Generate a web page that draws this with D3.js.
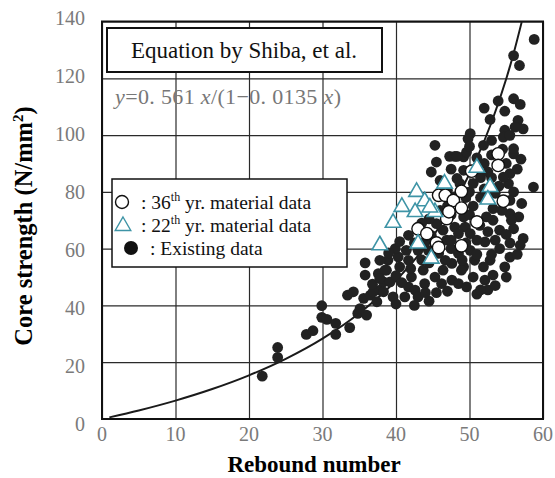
<!DOCTYPE html>
<html>
<head>
<meta charset="utf-8">
<script src="https://cdn.jsdelivr.net/npm/d3@7"></script>
<style>
  body, html { margin: 0; padding: 0; background: #fff; }
  svg { display: block; }
  svg text { font-family: "Liberation Serif", "DejaVu Serif", serif; }
</style>
</head>
<body>
<svg width="555" height="478"></svg>
<script>

// axis ticks
var xTicks = [0, 10, 20, 30, 40, 50, 60];
var yTicks = [0, 20, 40, 60, 80, 100, 120, 140];

// equation by Shiba et al.: y = a x / (1 - b x)
var coefA = 0.561, coefB = 0.0135;
var curveX = [1, 5, 10, 15, 20, 25, 30, 35, 40, 43, 46, 49, 51, 53, 55, 56, 57.1];

// existing data (filled dots) [rebound number, core strength]
var existing = [
  [21.8,15.1],[23.9,25.2],[23.9,21.7],[27.8,29.8],[28.7,31.1],[29.9,39.9],[29.9,35.8],[30.6,35.1],
  [31.8,33.7],[31.8,29.8],[33.7,32.2],[34.2,44.8],[33.4,43.6],[34.8,37.2],[36.0,36.6],[35.1,38.9],
  [35.8,55.0],[35.8,50.7],[35.6,42.5],[36.5,43.6],[36.9,44.8],[37.4,41.3],[37.8,45.4],[38.3,48.3],
  [37.6,51.2],[38.7,52.4],[38.9,55.9],[36.8,47.5],
  [37.8,55.9],[38.5,52.4],[37.8,49.5],[39.2,48.3],[38.3,44.8],[39.6,43.0],[40.3,57.1],[41.4,59.4],
  [41.7,55.9],[40.5,53.6],[42.1,50.0],[41.7,46.5],[42.6,45.4],[41.2,43.0],[43.0,43.0],[43.9,47.7],
  [43.7,52.4],[45.3,50.0],[46.2,47.7],[47.6,48.9],[48.5,47.7],[46.4,52.4],[47.6,54.8],[49.2,53.6],
  [46.7,55.9],[48.5,58.3],[49.4,67.6],[48.0,67.6],[48.5,65.3],[49.2,71.2],[48.0,78.2],[48.7,82.9],
  [49.2,87.6],[48.3,84.7],[41.7,64.7],[44.8,64.7],[46.4,66.5],[45.5,68.8],[46.9,63.0],[44.4,59.4],
  [45.8,58.3],[43.0,59.4],[39.9,60.0],[44.8,87.0],[48.0,92.5],
  [40.0,40.5],[42.5,40.0],[44.5,41.5],[45.5,44.5],[47.0,45.0],[44.0,44.5],
  [40.5,62.5],[42.5,62.0],[44.0,62.5],[43.5,56.0],[42.0,53.0],[44.5,55.0],[40.0,50.5],[39.0,58.5],[40.8,48.0],
  [58.7,81.7],[57.3,63.6],[56.9,61.2],[57.1,75.9],[55.5,72.3],[56.7,71.2],[55.7,70.0],[54.4,73.5],
  [53.2,70.0],[54.1,66.5],[53.5,63.0],[54.1,60.0],[52.1,62.4],[52.8,55.9],[54.8,53.6],[51.9,53.6],
  [53.2,50.7],[52.1,48.9],[50.5,50.0],[49.6,46.5],[48.9,52.4],[50.7,55.9],[50.1,59.4],[50.1,65.3],
  [51.4,68.2],[52.3,71.2],[53.2,74.1],[55.3,82.9],[55.5,86.4],[56.0,93.4],[54.6,85.2],[49.2,92.3],
  [51.0,44.0],[52.5,45.5],
  [58.8,133.7],[56.0,128.0],[56.8,124.5],[53.9,112.0],[56.0,112.8],[56.9,110.8],[54.8,108.4],[52.0,109.5],
  [52.8,105.5],[56.6,105.2],[57.3,102.2],[56.2,102.8],[54.8,101.7],[54.6,99.3],[55.5,99.9],[50.1,100.5],
  [49.8,98.7],[53.0,98.1],[51.9,96.4],[45.3,96.4],[49.6,94.0],[56.0,95.2],[47.3,92.5],[48.3,92.5],
  [47.0,75.0],[47.5,72.0],[50.0,72.0],[50.5,75.0],[51.5,78.0],[50.0,80.0],[50.5,83.0],[51.5,85.0],
  [52.5,87.0],[52.0,90.0],[53.0,93.0],[54.5,95.0],[51.0,92.0],[50.0,96.0],[49.5,62.0],[51.0,63.0],
  [52.5,66.0],[51.0,58.0],[49.0,56.0],[47.5,60.0],[47.5,63.0],[46.0,73.5],[44.5,70.5],[43.5,69.0],
  [47.0,80.5],[46.0,84.0],[47.5,88.0],[45.5,90.5],[49.5,78.0],[53.5,79.5],[54.0,82.0],[56.0,80.0],
  [56.5,88.0],[57.0,91.5],[55.0,90.0],[53.0,85.0],[52.0,81.0],[55.5,77.0],[56.0,67.0],[55.0,65.0],
  [55.5,62.0],[53.0,58.0],[51.5,45.5],[53.5,47.0],[55.0,50.0],[55.5,57.0],[56.5,58.0]
];

// 36th year material data (open circles)
var year36 = [
  [43.0,67.0],[44.2,65.3],[45.5,62.0],[45.8,60.4],[45.8,78.8],[46.7,78.8],[46.9,70.6],[47.8,77.0],
  [48.9,80.2],[48.9,74.3],[48.9,61.0],[51.0,69.4],[50.3,87.3],[53.9,93.4],[53.9,89.3],[54.6,76.7],
  [47.2,73.0]
];

// 22nd year material data (triangles)
var year22 = [
  [51.0,88.5],[52.8,81.7],[52.5,77.3],[46.6,82.9],[42.8,80.0],[43.9,76.7],[40.8,74.7],[42.6,72.9],
  [45.3,72.9],[44.6,74.5],[39.6,69.1],[37.8,61.2],[43.0,61.8],[44.8,56.5]
];

var svg = d3.select('svg');
var margin = {top: 21.5, right: 12, bottom: 59, left: 102};
var width = 555 - margin.left - margin.right,
    height = 478 - margin.top - margin.bottom;

var x = d3.scaleLinear().domain([0, 60]).range([margin.left, margin.left + width]),
    y = d3.scaleLinear().domain([0, 140]).range([margin.top + height, margin.top]);
// the scanned figure spaces its y labels slightly wider than the grid
var yLabel = d3.scaleLinear().domain([0, 140]).range([424, 18]);

// grid
svg.append('g')
  .attr('transform', 'translate(0,' + (margin.top + height) + ')')
  .call(d3.axisBottom(x).tickValues(xTicks).tickSize(-height).tickFormat(''));
svg.append('g')
  .attr('transform', 'translate(' + margin.left + ',0)')
  .call(d3.axisLeft(y).tickValues(yTicks).tickSize(-width).tickFormat(''));
svg.selectAll('.domain').remove();
svg.selectAll('.tick line').attr('stroke', '#2a2a2a').attr('stroke-width', 1.2);

// tick labels
svg.append('g').selectAll('text').data(xTicks).join('text')
  .attr('x', function(d) { return x(d); })
  .attr('y', 441)
  .attr('text-anchor', 'middle')
  .attr('font-size', 20).attr('fill', '#7a7a7a')
  .text(function(d) { return d; });
svg.append('g').selectAll('text').data(yTicks).join('text')
  .attr('x', 85)
  .attr('y', function(d) { return yLabel(d) + 7; })
  .attr('text-anchor', 'end')
  .attr('font-size', 20).attr('fill', '#7a7a7a')
  .text(function(d) { return d; });

// frame
svg.append('rect')
  .attr('x', margin.left).attr('y', margin.top)
  .attr('width', width).attr('height', height)
  .attr('fill', 'none').attr('stroke', '#111').attr('stroke-width', 2);

// equation text
var eq = svg.append('text').attr('x', 115).attr('y', 104)
  .attr('font-size', 22).attr('letter-spacing', 0.35).attr('fill', '#777');
eq.append('tspan').attr('font-style', 'italic').text('y');
eq.append('tspan').text('=0. 561 ');
eq.append('tspan').attr('font-style', 'italic').text('x');
eq.append('tspan').text('/(1\u22120. 0135 ');
eq.append('tspan').attr('font-style', 'italic').text('x');
eq.append('tspan').text(')');

// title box
svg.append('rect').attr('x', 107).attr('y', 28).attr('width', 275).attr('height', 44)
  .attr('fill', '#fff').attr('stroke', '#111').attr('stroke-width', 2);
svg.append('text').attr('x', 244).attr('y', 58)
  .attr('text-anchor', 'middle').attr('font-size', 23).attr('fill', '#111')
  .text('Equation by Shiba, et al.');

// fitted curve
var line = d3.line()
  .x(function(d) { return x(d); })
  .y(function(d) { return y(coefA * d / (1 - coefB * d)); })
  .curve(d3.curveMonotoneX);
svg.append('path').datum(curveX)
  .attr('d', line)
  .attr('fill', 'none').attr('stroke', '#1a1a1a').attr('stroke-width', 2);

// existing data
svg.append('g').selectAll('circle').data(existing).join('circle')
  .attr('cx', function(d) { return x(d[0]); })
  .attr('cy', function(d) { return y(d[1]); })
  .attr('r', 5.4)
  .attr('fill', '#222');

// 36th year
svg.append('g').selectAll('circle').data(year36).join('circle')
  .attr('cx', function(d) { return x(d[0]); })
  .attr('cy', function(d) { return y(d[1]); })
  .attr('r', 6.2)
  .attr('fill', '#fff').attr('stroke', '#111').attr('stroke-width', 1.4);

// 22nd year
var tri = d3.symbol().type(d3.symbolTriangle).size(105);
svg.append('g').selectAll('path').data(year22).join('path')
  .attr('transform', function(d) { return 'translate(' + x(d[0]) + ',' + y(d[1]) + ')'; })
  .attr('d', tri)
  .attr('fill', '#fff').attr('stroke', '#3e94a6').attr('stroke-width', 1.6);

// legend
var lg = svg.append('g');
lg.append('rect').attr('x', 112).attr('y', 179).attr('width', 235).attr('height', 88)
  .attr('fill', '#fff').attr('stroke', '#111').attr('stroke-width', 1.5);
lg.append('circle').attr('cx', 122).attr('cy', 202).attr('r', 6.5)
  .attr('fill', '#fff').attr('stroke', '#111').attr('stroke-width', 1.4);
lg.append('path').attr('transform', 'translate(123,226)').attr('d', tri)
  .attr('fill', '#fff').attr('stroke', '#3e94a6').attr('stroke-width', 1.4);
lg.append('circle').attr('cx', 131).attr('cy', 248).attr('r', 7).attr('fill', '#111');

var items = [['36', 'yr. material data', 209], ['22', 'yr. material data', 232]];
items.forEach(function(it) {
  var t = lg.append('text').attr('x', 141).attr('y', it[2]).attr('font-size', 19.5).attr('fill', '#111');
  t.append('tspan').text(':  ' + it[0]);
  t.append('tspan').attr('font-size', 12).attr('dy', -8).text('th');
  t.append('tspan').attr('dy', 8).text(' ' + it[1]);
});
lg.append('text').attr('x', 150).attr('y', 255).attr('font-size', 19.5).attr('fill', '#111')
  .text(':  Existing data');

// axis titles
svg.append('text')
  .attr('x', 314).attr('y', 472)
  .attr('text-anchor', 'middle').attr('font-size', 23).attr('font-weight', 'bold')
  .text('Rebound number');
var yt = svg.append('text')
  .attr('transform', 'translate(32,226) rotate(-90)')
  .attr('text-anchor', 'middle').attr('font-size', 24.5).attr('font-weight', 'bold');
yt.append('tspan').text('Core strength (N/mm');
yt.append('tspan').attr('font-size', 15).attr('dy', -9).text('2');
yt.append('tspan').attr('dy', 9).text(')');

</script>
</body>
</html>
